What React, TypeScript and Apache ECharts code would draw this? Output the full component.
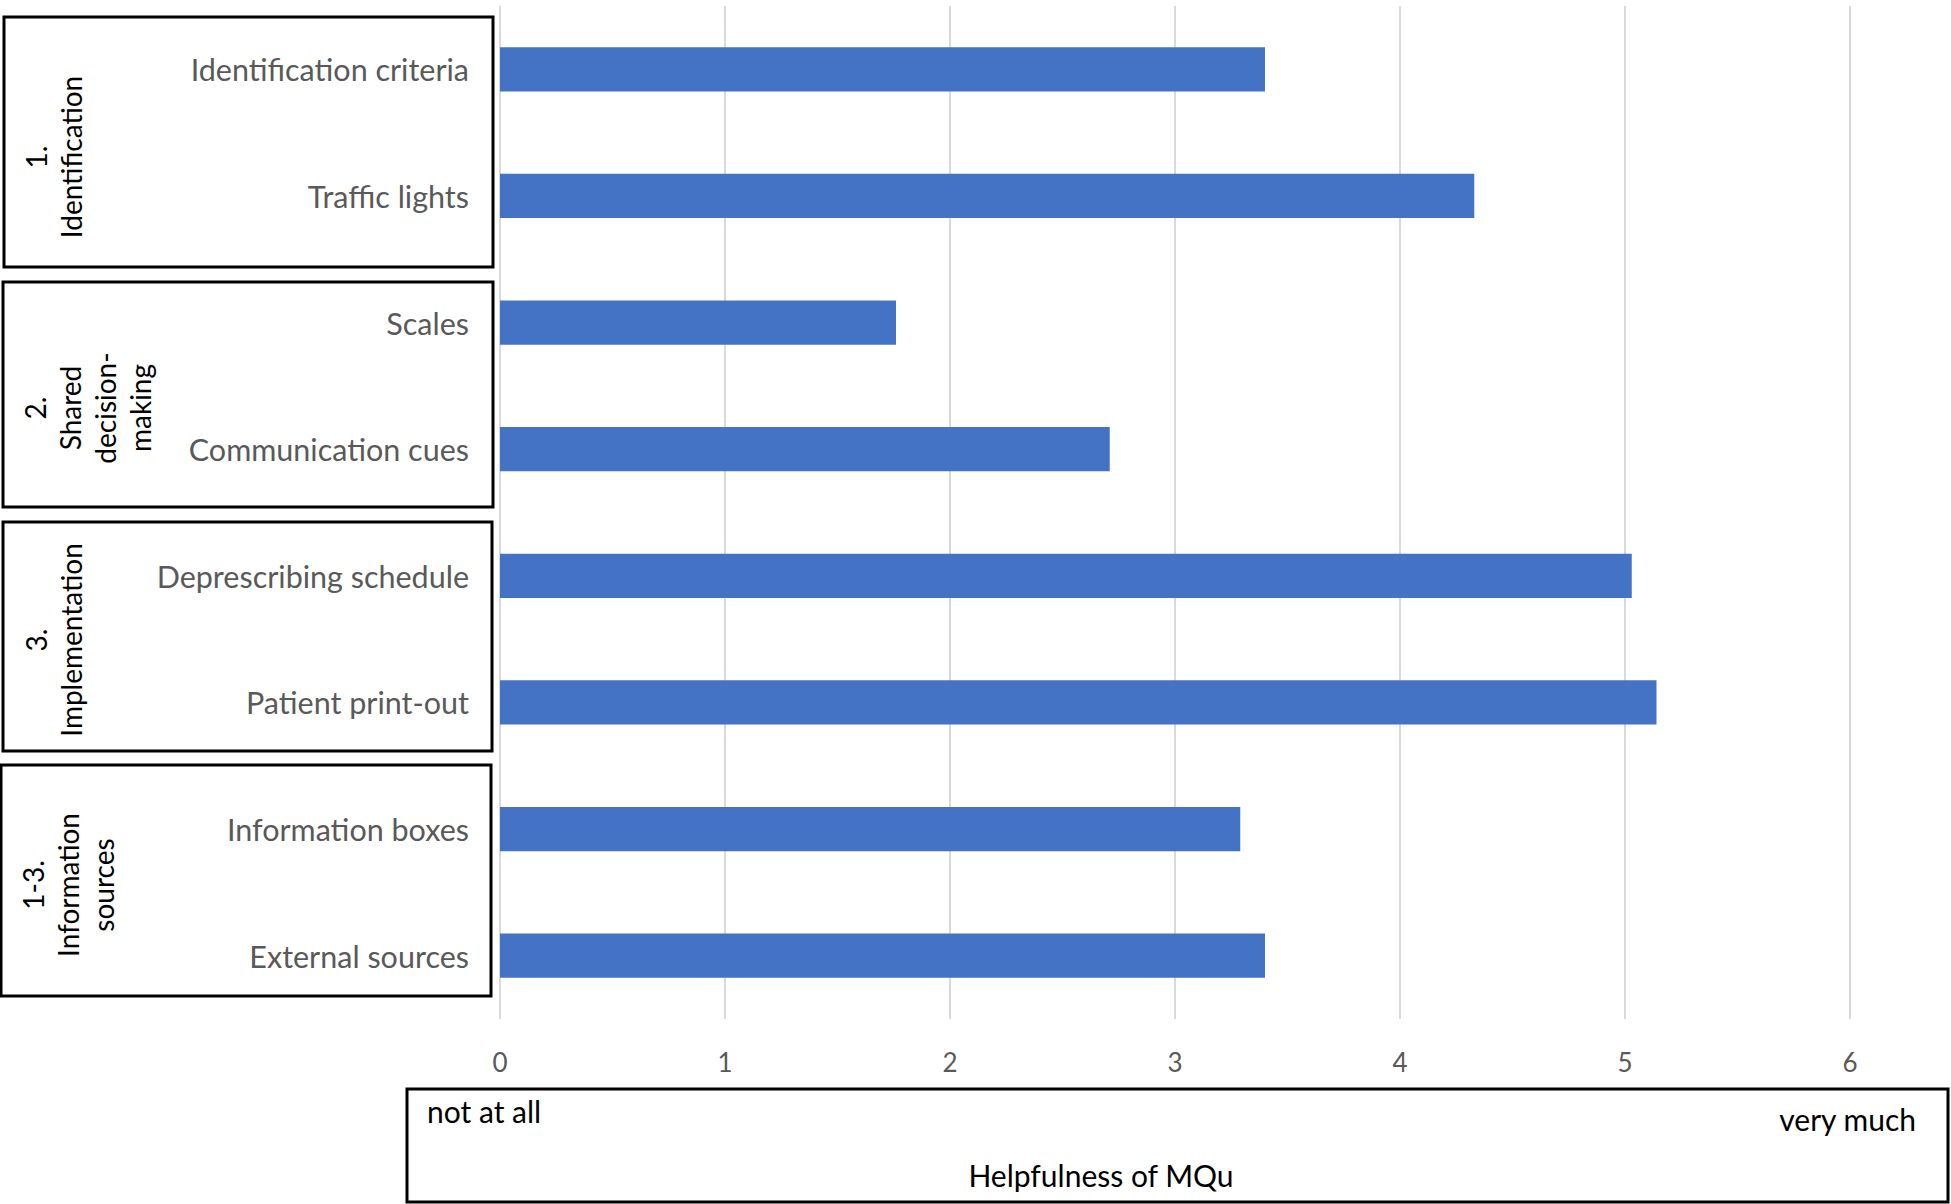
import React, { useEffect, useRef } from "react";
import * as echarts from "echarts";

const categories = [
  "Identification criteria",
  "Traffic lights",
  "Scales",
  "Communication cues",
  "Deprescribing schedule",
  "Patient print-out",
  "Information boxes",
  "External sources",
];
const values = [3.4, 4.33, 1.76, 2.71, 5.03, 5.14, 3.29, 3.4];
const groupLabels = [
  "1.\nIdentification",
  "2.\nShared\ndecision-\nmaking",
  "3.\nImplementation",
  "1-3.\nInformation\nsources",
];
const axisTitle = "Helpfulness of MQu";
const axisLowLabel = "not at all";
const axisHighLabel = "very much";

// layout (pixels)
const groupBoxes = [
  { x: 4, y: 17, w: 489, h: 250, cx: 53, cy: 157 },
  { x: 3, y: 282, w: 490, h: 225, cx: 87, cy: 408 },
  { x: 3, y: 522, w: 489, h: 229, cx: 53, cy: 640 },
  { x: 1, y: 765, w: 490, h: 231, cx: 68, cy: 885 },
];

export default function App() {
  const ref = useRef<HTMLDivElement>(null);
  useEffect(() => {
    document.body.style.margin = "0";
    const chart = echarts.init(ref.current!, undefined, { renderer: "svg" });
    const font = "Lato";
    const graphics: any[] = [];
    groupBoxes.forEach((b, i) => {
      graphics.push({
        type: "rect",
        shape: { x: b.x, y: b.y, width: b.w, height: b.h },
        style: { fill: "none", stroke: "#000", lineWidth: 3 },
      });
      graphics.push({
        type: "text",
        x: b.cx,
        y: b.cy,
        rotation: Math.PI / 2,
        style: {
          text: groupLabels[i],
          fill: "#000",
          font: `28px ${font}`,
          align: "center",
          verticalAlign: "middle",
          lineHeight: 35,
        },
      });
    });
    graphics.push({
      type: "rect",
      shape: { x: 407, y: 1089, width: 1541, height: 113 },
      style: { fill: "none", stroke: "#000", lineWidth: 3 },
    });
    graphics.push({
      type: "text",
      x: 427,
      y: 1111,
      style: { text: axisLowLabel, fill: "#000", font: `30px ${font}`, align: "left", verticalAlign: "middle" },
    });
    graphics.push({
      type: "text",
      x: 1916,
      y: 1119,
      style: { text: axisHighLabel, fill: "#000", font: `30px ${font}`, align: "right", verticalAlign: "middle" },
    });
    graphics.push({
      type: "text",
      x: 1101,
      y: 1175,
      style: { text: axisTitle, fill: "#000", font: `30px ${font}`, align: "center", verticalAlign: "middle" },
    });

    chart.setOption({
      animation: false,
      grid: { left: 500, right: 101, top: 6, bottom: 185, containLabel: false },
      xAxis: {
        type: "value",
        min: 0,
        max: 6,
        interval: 1,
        axisLine: { show: false },
        axisTick: { show: false },
        axisLabel: { color: "#595959", fontSize: 26, fontFamily: font, margin: 30 },
        splitLine: { show: true, lineStyle: { color: "#D9D9D9", width: 2 } },
      },
      yAxis: {
        type: "category",
        data: categories,
        inverse: true,
        axisLine: { show: false },
        axisTick: { show: false },
        axisLabel: { color: "#595959", fontSize: 30.5, fontFamily: font, margin: 31 },
      },
      series: [
        {
          type: "bar",
          data: values,
          barWidth: "35%",
          itemStyle: { color: "#4472C4" },
        },
      ],
      graphic: graphics,
    });
    return () => chart.dispose();
  }, []);
  return <div ref={ref} style={{ width: 1951, height: 1204 }} />;
}
